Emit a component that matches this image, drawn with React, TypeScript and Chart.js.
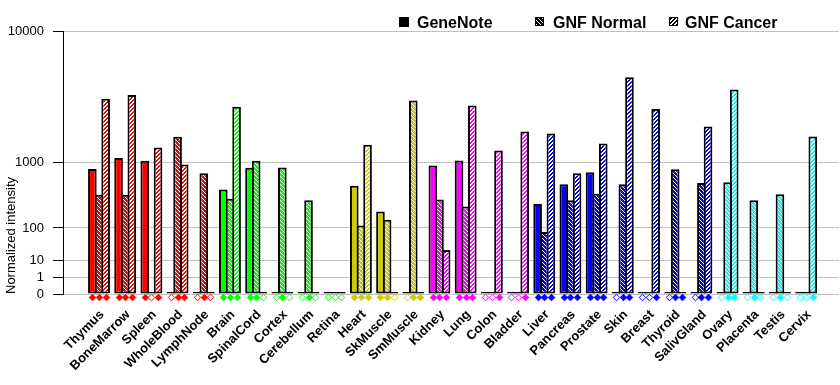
import React, { useEffect, useRef } from 'react';
import { Chart, registerables, LinearScale } from 'chart.js';

Chart.register(...registerables);

// ---------- data ----------
const tissues = ['Thymus', 'BoneMarrow', 'Spleen', 'WholeBlood', 'LymphNode', 'Brain', 'SpinalCord', 'Cortex', 'Cerebellum', 'Retina', 'Heart', 'SkMuscle', 'SmMuscle', 'Kidney', 'Lung', 'Colon', 'Bladder', 'Liver', 'Pancreas', 'Prostate', 'Skin', 'Breast', 'Thyroid', 'SalivGland', 'Ovary', 'Placenta', 'Testis', 'Cervix'];
const tissueColors = ['#ff0000', '#ff0000', '#ff0000', '#ff0000', '#ff0000', '#00ff00', '#00ff00', '#00ff00', '#00ff00', '#00ff00', '#cccc00', '#cccc00', '#cccc00', '#ff00ff', '#ff00ff', '#ff00ff', '#ff00ff', '#0000ff', '#0000ff', '#0000ff', '#0000ff', '#0000ff', '#0000ff', '#0000ff', '#00ffff', '#00ffff', '#00ffff', '#00ffff'];
const seriesNames = ['GeneNote', 'GNF Normal', 'GNF Cancer'];
const geneNote = [840, 1110, 1035, 0, 0, 460, 865, 0, 0, 0, 520, 210, 0, 920, 1045, 0, 0, 280, 545, 765, 0, 0, 0, 0, 0, 0, 0, 0];
const gnfNormal = [390, 390, 0, 1800, 745, 340, 1040, 870, 320, 0, 113, 148, 3600, 330, 255, 0, 0, 81, 320, 400, 545, 0, 830, 565, 575, 320, 395, 0];
const gnfCancer = [3700, 3950, 1420, 945, 0, 3220, 0, 0, 0, 0, 1510, 0, 0, 26, 3290, 1330, 2010, 1930, 745, 1560, 5240, 3100, 0, 2220, 4330, 0, 0, 1815];
// detection markers (filled diamond = detected)
const geneNoteDetected = [1, 1, 1, 0, 0, 1, 1, 0, 0, 0, 1, 1, 0, 1, 1, 0, 0, 1, 1, 1, 0, 0, 0, 0, 0, 0, 0, 0];
const gnfNormalDetected = [1, 1, 0, 1, 1, 1, 1, 1, 1, 0, 1, 1, 1, 1, 1, 0, 0, 1, 1, 1, 1, 0, 1, 1, 1, 1, 1, 0];
const gnfCancerDetected = [1, 1, 1, 1, 0, 1, 0, 0, 0, 0, 1, 0, 1, 1, 1, 1, 1, 1, 1, 1, 1, 1, 1, 1, 1, 0, 0, 1];
const yTicks = [0, 1, 10, 100, 1000, 10000];
const yTitle = 'Normalized intensity';

const EXP = 0.3;
const FONT = '"Liberation Sans", Arial, Helvetica, sans-serif';

class PowerScale extends LinearScale {
  static id = 'power';
  static defaults = {};
  determineDataLimits() {
    this.min = yTicks[0];
    this.max = yTicks[yTicks.length - 1];
  }
  buildTicks() {
    return yTicks.map((v) => ({ value: v }));
  }
  getPixelForValue(value: any) {
    const v = Math.max(0, Number(value) || 0);
    return this.getPixelForDecimal(Math.pow(v, EXP) / Math.pow(this.max, EXP));
  }
  getValueForPixel(pixel: number) {
    const d = Math.max(0, this.getDecimalForPixel(pixel));
    return Math.pow(d, 1 / EXP) * this.max;
  }
}
Chart.register(PowerScale as any);

function makePattern(color: string, kind: 'normal' | 'cancer') {
  const n = 4;
  const c = document.createElement('canvas');
  c.width = n;
  c.height = n;
  const g = c.getContext('2d')!;
  g.fillStyle = '#ffffff';
  g.fillRect(0, 0, n, n);
  g.fillStyle = color;
  for (let y = 0; y < n; y++) {
    for (let x = 0; x < n; x++) {
      const on = kind === 'normal' ? (x - y + n) % n !== 0 : (x + y) % n < 2;
      if (on) g.fillRect(x, y, 1, 1);
    }
  }
  return g.createPattern(c, 'repeat')!;
}

const extrasPlugin = {
  id: 'extras',
  afterDatasetsDraw(chart: any) {
    const ctx = chart.ctx;
    const flags = [geneNoteDetected, gnfNormalDetected, gnfCancerDetected];
    const y = chart.chartArea.bottom + 3.5;
    const r = 3.3;
    ctx.save();
    flags.forEach((arr, d) => {
      const meta = chart.getDatasetMeta(d);
      meta.data.forEach((el: any, i: number) => {
        const x = Math.round(el.x) + 0.5;
        ctx.beginPath();
        ctx.moveTo(x, y - r);
        ctx.lineTo(x + r, y);
        ctx.lineTo(x, y + r);
        ctx.lineTo(x - r, y);
        ctx.closePath();
        ctx.fillStyle = arr[i] ? tissueColors[i] : '#ffffff';
        ctx.fill();
        ctx.strokeStyle = tissueColors[i];
        ctx.lineWidth = 1;
        ctx.stroke();
      });
    });
    ctx.restore();
  },
  afterDraw(chart: any) {
    const ctx = chart.ctx;
    ctx.save();
    const boxX = [399, 535, 669];
    const textX = [417, 553, 685];
    const boxTop = 17;
    const box = 10;
    ctx.font = `bold 16px ${FONT}`;
    ctx.textBaseline = 'alphabetic';
    ctx.textAlign = 'left';
    seriesNames.forEach((name, k) => {
      const x = boxX[k];
      if (k === 0) {
        ctx.fillStyle = '#000';
        ctx.fillRect(x, boxTop, box, box);
      } else {
        ctx.fillStyle = makePattern('#000000', k === 1 ? 'normal' : 'cancer');
        ctx.fillRect(x, boxTop, box - 1, box - 1);
        ctx.strokeStyle = '#000';
        ctx.lineWidth = 1;
        ctx.strokeRect(x + 0.5, boxTop + 0.5, box - 2, box - 2);
      }
      ctx.fillStyle = '#000';
      ctx.fillText(name, textX[k], boxTop + box + 0.5);
    });
    ctx.restore();
  },
};

export default function App() {
  const ref = useRef<HTMLCanvasElement | null>(null);
  useEffect(() => {
    document.body.style.margin = '0';
    const canvas = ref.current!;
    const normalPatterns = tissueColors.map((c) => makePattern(c, 'normal'));
    const cancerPatterns = tissueColors.map((c) => makePattern(c, 'cancer'));
    const common = {
      borderColor: '#000000',
      borderWidth: 2,
      borderSkipped: false,
      minBarLength: 2,
      categoryPercentage: 0.76,
      barPercentage: 1.3,
    };
    const chart = new Chart(canvas, {
      type: 'bar',
      data: {
        datasets: [
          { ...common, label: seriesNames[0], data: geneNote.map((v, i) => ({ x: i, y: v })), backgroundColor: tissueColors },
          { ...common, label: seriesNames[1], data: gnfNormal.map((v, i) => ({ x: i, y: v })), backgroundColor: normalPatterns },
          { ...common, label: seriesNames[2], data: gnfCancer.map((v, i) => ({ x: i, y: v })), backgroundColor: cancerPatterns },
        ],
      } as any,
      options: {
        animation: false,
        responsive: true,
        maintainAspectRatio: false,
        layout: { padding: { top: 31, right: 1, left: 0, bottom: 0 } },
        plugins: { legend: { display: false }, tooltip: { enabled: false } },
        scales: {
          x: {
            type: 'linear',
            min: -1.3746,
            max: 28.254,
            offset: false,
            grid: { display: false, drawTicks: false },
            border: { display: false },
            ticks: {
              autoSkip: false,
              maxRotation: 45,
              minRotation: 45,
              padding: 13,
              labelOffset: 3,
              color: '#000',
              font: { family: FONT, size: 13, weight: 'bold' },
              callback: (v: any) => (Number.isInteger(v) && tissues[v] !== undefined ? tissues[v] : ''),
            },
            afterBuildTicks: (s: any) => {
              s.ticks = tissues.map((_, i) => ({ value: i }));
            },
            afterFit: (s: any) => {
              s.height = 91;
            },
          },
          y: {
            type: 'power',
            position: 'left',
            grid: { color: '#c0c0c0', tickColor: '#000', tickLength: 10, lineWidth: 1 },
            border: { color: '#000', width: 1 },
            ticks: {
              padding: 9,
              color: '#000',
              font: { family: FONT, size: 13 },
              callback: (v: any) => String(v),
            },
            title: {
              display: true,
              text: yTitle,
              align: 'start',
              color: '#000',
              font: { family: FONT, size: 13 },
              padding: { top: 4, bottom: 0 },
            },
            afterFit: (s: any) => {
              s.width = 63;
            },
          } as any,
        },
      } as any,
      plugins: [extrasPlugin],
    });
    return () => chart.destroy();
  }, []);
  return (
    <div style={{ width: 840, height: 385, position: 'relative' }}>
      <canvas ref={ref} />
    </div>
  );
}
